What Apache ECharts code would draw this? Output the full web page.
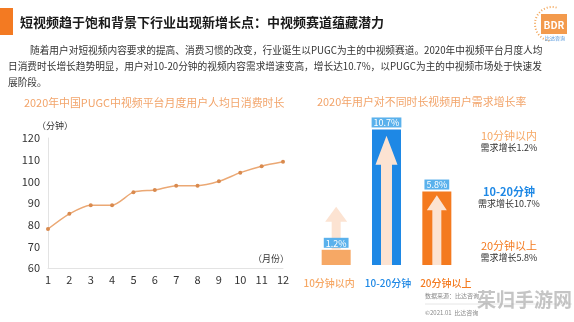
<!DOCTYPE html>
<html><head><meta charset="utf-8">
<script src="https://cdn.jsdelivr.net/npm/echarts@6/dist/echarts.min.js"></script>
<style>html,body{margin:0;padding:0;background:#fff}#c{width:574px;height:322px}</style>
</head><body><div id="c"></div>
<script>
// ---- data ----
const months = ['1','2','3','4','5','6','7','8','9','10','11','12'];
const minutes = [78, 85, 89, 89, 95, 96, 98, 98, 100, 104, 107, 109];
const yTicks = {min: 60, max: 120, interval: 10};
const durCats = ['10分钟以内', '10-20分钟', '20分钟以上'];
const growth = [1.2, 10.7, 5.8];
const arrowTop = [4.6, 10.2, 5.5];
const growthLabels = ['1.2%', '10.7%', '5.8%'];
const sideTitles = ['10分钟以内', '10-20分钟', '20分钟以上'];
const sideNotes = ['需求增长1.2%', '需求增长10.7%', '需求增长5.8%'];
const mainTitle = '短视频趋于饱和背景下行业出现新增长点：中视频赛道蕴藏潜力';
const para = [
  '随着用户对短视频内容要求的提高、消费习惯的改变，行业诞生以PUGC为主的中视频赛道。2020年中视频平台月度人均',
  '日消费时长增长趋势明显，用户对10-20分钟的视频内容需求增速变高，增长达10.7%，以PUGC为主的中视频市场处于快速发',
  '展阶段。'
];
const leftTitle = '2020年中国PUGC中视频平台月度用户人均日消费时长';
const rightTitle = '2020年用户对不同时长视频用户需求增长率';

// ---- styles ----
const F = '"Noto Sans CJK SC", "Noto Sans", sans-serif';
const barColors = ['#F6A865', '#1E88E5', '#F47A1F'];
const catColors = ['#F6A865', '#1E88E5', '#F47A1F'];
const arrowHeadW = [22, 22, 20];
const arrowHeadH = [15, 29, 15];
const arrowShaftW = [9, 11, 9];
const arrowBehind = [true, false, false];

const chart = echarts.init(document.getElementById('c'), null, {renderer: 'canvas'});

const graphic = [
  {type: 'rect', shape: {x: 0, y: 8, width: 13, height: 27}, style: {fill: '#F37A22'}},
  {type: 'text', x: 20, y: 22, style: {text: mainTitle, font: 'bold 13px ' + F, fill: '#1a1a1a', textVerticalAlign: 'middle'}},
  {type: 'text', x: 30, y: 50, style: {text: para[0], font: '9.7px ' + F, fill: '#333', textVerticalAlign: 'middle'}},
  {type: 'text', x: 8, y: 66, style: {text: para[1], font: '9.7px ' + F, fill: '#333', textVerticalAlign: 'middle'}},
  {type: 'text', x: 8, y: 82, style: {text: para[2], font: '9.7px ' + F, fill: '#333', textVerticalAlign: 'middle'}},
  {type: 'text', x: 24, y: 103, style: {text: leftTitle, font: '10.9px ' + F, fill: '#F2A46A', textVerticalAlign: 'middle'}},
  {type: 'text', x: 317, y: 102, style: {text: rightTitle, font: '10.9px ' + F, fill: '#F2A46A', textVerticalAlign: 'middle'}},
  {type: 'text', x: 37, y: 126, style: {text: '（分钟）', font: '9px ' + F, fill: '#333', textVerticalAlign: 'middle'}},
  {type: 'text', x: 253, y: 259, style: {text: '（月份）', font: '9px ' + F, fill: '#333', textVerticalAlign: 'middle'}},
  // BDR logo
  {type: 'arc', shape: {cx: 552, cy: 24, r: 17, startAngle: Math.PI * 0.55, endAngle: Math.PI * 1.6}, style: {stroke: '#F2A65A', lineWidth: 2, lineDash: [1, 2], fill: null}},
  {type: 'rect', shape: {x: 541, y: 14, width: 26, height: 20}, style: {fill: '#F39A4C'}},
  {type: 'text', x: 554, y: 25, style: {text: 'BDR', font: 'bold 10px ' + F, fill: '#fff', textAlign: 'center', textVerticalAlign: 'middle'}},
  {type: 'text', x: 555, y: 38, style: {text: '比达咨询', font: '5px ' + F, fill: '#4A90D9', textAlign: 'center', textVerticalAlign: 'middle'}},
  // footer
  {type: 'text', x: 425, y: 296, style: {text: '数据来源：比达咨询', font: '6px ' + F, fill: '#888', textVerticalAlign: 'middle'}},
  {type: 'line', shape: {x1: 425, y1: 304, x2: 572, y2: 304}, style: {stroke: '#e6e6e6', lineWidth: 1}},
  {type: 'text', x: 425, y: 313, style: {text: '©2021.01  比达咨询', font: '6px ' + F, fill: '#888', textVerticalAlign: 'middle'}},
  {type: 'text', x: 477, y: 300, z: 100, style: {text: '茱归手游网', font: 'bold 19px ' + F, fill: 'rgba(150,150,150,0.55)', textVerticalAlign: 'middle'}}
];
const sideY = [136, 192, 246];
sideTitles.forEach((t, i) => {
  graphic.push({type: 'text', x: 509, y: sideY[i], style: {text: t, font: (i === 1 ? 'bold ' : '') + '11px ' + F, fill: catColors[i], textAlign: 'center', textVerticalAlign: 'middle'}});
  graphic.push({type: 'text', x: 509, y: sideY[i] + 12, style: {text: sideNotes[i], font: '9px ' + F, fill: '#333', textAlign: 'center', textVerticalAlign: 'middle'}});
});

const richCat = {
  c0: {color: catColors[0], fontSize: 10, fontWeight: 500, padding: [0, 14, 0, 0], fontFamily: F},
  c1: {color: catColors[1], fontSize: 10, fontWeight: 500, padding: [0, 0, 0, 3], fontFamily: F},
  c2: {color: catColors[2], fontSize: 10, fontWeight: 500, padding: [0, 0, 0, 18], fontFamily: F}
};

chart.setOption({
  animation: false,
  backgroundColor: '#fff',
  textStyle: {fontFamily: F},
  grid: [
    {left: 48, right: 291, top: 138, bottom: 54},
    {left: 311, right: 112, top: 113, bottom: 57}
  ],
  xAxis: [
    {gridIndex: 0, type: 'category', data: months, boundaryGap: false,
     axisLine: {lineStyle: {color: '#e3e3e3'}}, axisTick: {show: false},
     axisLabel: {color: '#333', fontSize: 11, margin: 6, fontFamily: F}},
    {gridIndex: 1, type: 'category', data: durCats,
     axisLine: {show: false}, axisTick: {show: false},
     axisLabel: {margin: 13, interval: 0, hideOverlap: false,
       formatter: (v, i) => '{c' + i + '|' + v + '}', rich: richCat}}
  ],
  yAxis: [
    {gridIndex: 0, type: 'value', min: yTicks.min, max: yTicks.max, interval: yTicks.interval,
     axisLine: {show: true, lineStyle: {color: '#e3e3e3'}}, axisTick: {show: false},
     splitLine: {show: false}, axisLabel: {color: '#333', fontSize: 11, margin: 8, fontFamily: F}},
    {gridIndex: 1, type: 'value', min: 0, max: 12, show: false, splitLine: {show: false}}
  ],
  series: [
    {type: 'line', xAxisIndex: 0, yAxisIndex: 0, data: minutes, smooth: 0.25,
     lineStyle: {color: '#EBA874', width: 1.5}, symbol: 'circle', symbolSize: 4,
     itemStyle: {color: '#D98A4E'}},
    {type: 'bar', xAxisIndex: 1, yAxisIndex: 1, barWidth: 29, z: 2,
     data: growth.map((v, i) => ({value: v, itemStyle: {color: barColors[i]}}))},
    {type: 'custom', xAxisIndex: 1, yAxisIndex: 1, z: 3,
     data: arrowTop.map((v, i) => [i, v]),
     renderItem: (params, api) => {
       const i = api.value(0);
       const top = api.coord([i, api.value(1)]);
       const bot = api.coord([i, arrowBehind[i] ? growth[i] : 0]);
       const x = top[0], yT = top[1], yB = bot[1];
       const hw = arrowHeadW[i] / 2, sw = arrowShaftW[i] / 2, hh = arrowHeadH[i];
       return {type: 'polygon', shape: {points: [[x, yT], [x + hw, yT + hh], [x + sw, yT + hh], [x + sw, yB], [x - sw, yB], [x - sw, yT + hh], [x - hw, yT + hh]]},
         style: {fill: '#FCE3D2'}};
     }},
    {type: 'bar', xAxisIndex: 1, yAxisIndex: 1, barWidth: 29, barGap: '-100%', z: 4,
     data: growth, itemStyle: {color: 'rgba(0,0,0,0)'},
     label: {show: true, position: 'top', distance: 2, formatter: p => growthLabels[p.dataIndex],
       color: '#fff', fontSize: 9, backgroundColor: '#5AB1EC', padding: [1, 2, 0, 2], fontFamily: F}}
  ],
  graphic: graphic
});
</script></body></html>
